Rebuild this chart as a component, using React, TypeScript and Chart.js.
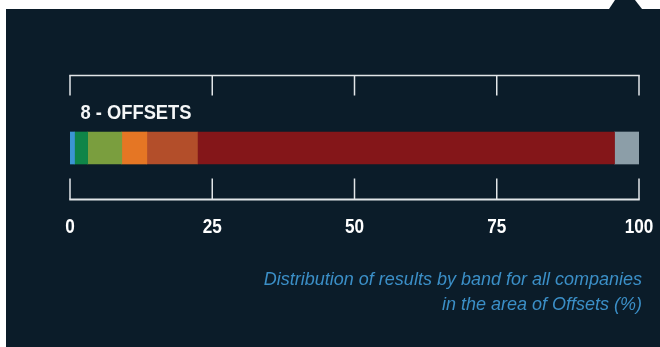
import React, { useEffect, useRef } from "react";
import { Chart, registerables } from "chart.js";

Chart.register(...registerables);

const CATEGORIES = ["8 - OFFSETS"];
const BANDS = ["Band 1", "Band 2", "Band 3", "Band 4", "Band 5", "Band 6", "No data"];
const VALUES = [0.8, 2.3, 6.0, 4.4, 8.9, 73.3, 4.3];
const COLORS = ["#3b95d3", "#0f8548", "#7a9e3e", "#e57624", "#b34e2a", "#841619", "#8c9ea8"];
const X_TICKS = [0, 25, 50, 75, 100];
const CAPTION_LINES = [
  "Distribution of results by band for all companies",
  "in the area of Offsets (%)",
];

const FONT = "'Liberation Sans', Arial, sans-serif";

function drawCondensed(ctx: any, text: string, x: number, y: number, align: string, scaleX: number) {
  ctx.save();
  ctx.translate(x, y);
  ctx.scale(scaleX, 1);
  ctx.textAlign = align;
  ctx.fillText(text, 0, 0);
  ctx.restore();
}

const bracketPlugin = {
  id: "brackets",
  afterDatasetsDraw(chart: any) {
    const ctx = chart.ctx;
    const xs = chart.scales.x;
    const bar = chart.getDatasetMeta(0).data[0];
    if (!bar) return;
    const { y, height } = bar.getProps(["y", "height"], true);
    const barTop = y - height / 2;
    const barBottom = y + height / 2;
    const xs0 = xs.getPixelForValue(X_TICKS[0]);
    const xs1 = xs.getPixelForValue(X_TICKS[X_TICKS.length - 1]);
    ctx.save();
    ctx.strokeStyle = "#e2e5e8";
    // top bracket
    const topLine = barTop - 56.5;
    ctx.lineWidth = 1.6;
    ctx.beginPath();
    ctx.moveTo(xs0 - 0.75, topLine);
    ctx.lineTo(xs1 + 0.75, topLine);
    ctx.stroke();
    ctx.lineWidth = 1.5;
    X_TICKS.forEach((v) => {
      const px = xs.getPixelForValue(v);
      ctx.beginPath();
      ctx.moveTo(px, topLine);
      ctx.lineTo(px, topLine + 20);
      ctx.stroke();
    });
    // bottom bracket
    const botLine = barBottom + 35.5;
    ctx.lineWidth = 2;
    ctx.beginPath();
    ctx.moveTo(xs0 - 0.75, botLine);
    ctx.lineTo(xs1 + 0.75, botLine);
    ctx.stroke();
    ctx.lineWidth = 1.5;
    X_TICKS.forEach((v) => {
      const px = xs.getPixelForValue(v);
      ctx.beginPath();
      ctx.moveTo(px, botLine - 21);
      ctx.lineTo(px, botLine);
      ctx.stroke();
    });
    // tick labels (from the x scale)
    ctx.fillStyle = "#ffffff";
    ctx.font = `bold 19.5px ${FONT}`;
    ctx.textBaseline = "alphabetic";
    X_TICKS.forEach((v) => {
      const px = xs.getPixelForValue(v);
      drawCondensed(ctx, String(v), px, botLine + 33.5, "center", 0.88);
    });
    // category label
    ctx.fillStyle = "#f4f6f7";
    drawCondensed(ctx, String(chart.data.labels[0]), xs0 + 10.5, barTop - 13, "left", 0.94);
    ctx.restore();
  },
};

export default function App() {
  const canvasRef = useRef<HTMLCanvasElement | null>(null);

  useEffect(() => {
    if (!canvasRef.current) return;
    const chart = new Chart(canvasRef.current, {
      type: "bar",
      data: {
        labels: CATEGORIES,
        datasets: BANDS.map((b, i) => ({
          label: b,
          data: [VALUES[i]],
          backgroundColor: COLORS[i],
          borderWidth: 0,
          barThickness: 32,
        })),
      },
      options: {
        indexAxis: "y",
        animation: false,
        responsive: true,
        maintainAspectRatio: false,
        layout: { padding: { top: 96, left: 70, right: 21, bottom: 147 } },
        plugins: {
          legend: { display: false },
          tooltip: { enabled: false },
          title: { display: false },
        },
        scales: {
          y: { stacked: true, display: false },
          x: {
            stacked: true,
            display: false,
            min: 0,
            max: 100,
            afterBuildTicks: (scale: any) => {
              scale.ticks = X_TICKS.map((v) => ({ value: v }));
            },
          },
        },
      },
      plugins: [bracketPlugin],
    });
    return () => chart.destroy();
  }, []);

  return (
    <div style={{ position: "fixed", left: 0, top: 0, width: 660, height: 347, background: "#ffffff", overflow: "hidden" }}>
      <div style={{ position: "absolute", left: 6, top: 9, width: 654, height: 338, background: "#0b1c29" }} />
      <div
        style={{
          position: "absolute",
          left: 609,
          top: 0,
          width: 33,
          height: 9,
          background: "#0b1c29",
          clipPath: "polygon(6px 0, 26px 0, 33px 9px, 0 9px)",
        }}
      />
      <div style={{ position: "absolute", left: 0, top: 0, width: 660, height: 347 }}>
        <canvas ref={canvasRef} />
      </div>
      <div
        style={{
          position: "absolute",
          right: 18,
          top: 267,
          textAlign: "right",
          color: "#3b8fc7",
          fontFamily: "'Liberation Sans', Arial, sans-serif",
          fontStyle: "italic",
          fontSize: 18,
          lineHeight: "24.5px",
          whiteSpace: "nowrap",
        }}
      >
        {CAPTION_LINES.map((l, i) => (
          <div key={i}>{l}</div>
        ))}
      </div>
    </div>
  );
}
